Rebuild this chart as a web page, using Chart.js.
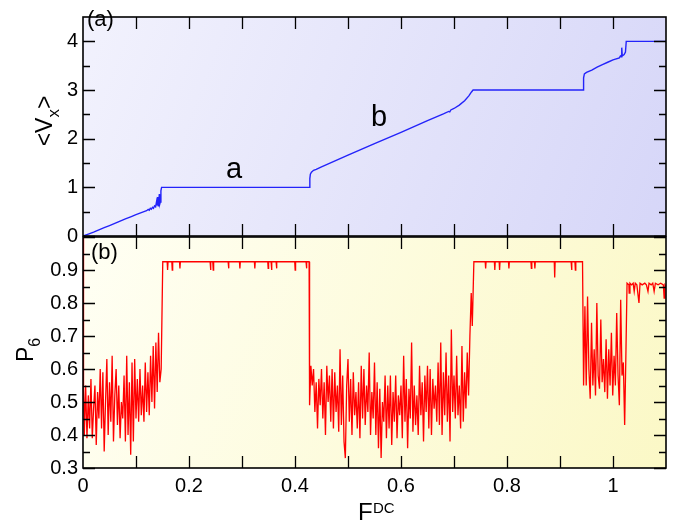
<!DOCTYPE html>
<html><head><meta charset="utf-8">
<script src="https://cdn.jsdelivr.net/npm/chart.js@4.4.1/dist/chart.umd.min.js"></script>
<style>
html,body{margin:0;padding:0;background:#fff;}
#wrap{position:relative;width:676px;height:528px;}
canvas{position:absolute;left:0;top:0;}
</style></head><body>
<div id="wrap">
<canvas id="cTop" width="676" height="528" style="width:676px;height:528px"></canvas>
<canvas id="cBot" width="676" height="528" style="width:676px;height:528px"></canvas>
</div>
<script>
// ---------------- DATA ----------------
// Panel (a): <V_x> versus F^DC (blue)
const vxF = [0,0.01,0.02,0.03,0.04,0.05,0.06,0.07,0.08,0.09,0.10,0.105,0.11,0.115,0.12,0.123,0.125,0.127,0.129,0.131,0.133,0.135,0.137,0.139,0.140,0.141,0.142,0.143,0.144,0.145,0.146,0.147,0.1483,
  0.4265,0.428,0.429,0.431,0.435,0.44,0.45,0.50,0.55,0.60,0.65,0.68,0.69,0.692,0.694,0.70,0.71,0.72,0.728,0.733,0.736,
  0.9435,0.9445,0.946,0.95,0.96,0.97,0.98,0.99,1.00,1.012,1.014,1.0155,1.0165,1.0175,1.021,1.0235,1.025,1.1];
const vxV = [0,0.04,0.08,0.125,0.17,0.215,0.26,0.305,0.35,0.395,0.44,0.46,0.48,0.50,0.52,0.545,0.53,0.57,0.55,0.59,0.57,0.62,0.60,0.72,0.64,0.80,0.62,0.70,0.86,0.66,0.70,0.93,1.0,
  1.0,1.18,1.27,1.31,1.35,1.37,1.42,1.66,1.90,2.13,2.37,2.51,2.56,2.55,2.59,2.62,2.69,2.78,2.88,2.96,3.0,
  3.0,3.25,3.33,3.36,3.41,3.47,3.52,3.57,3.62,3.66,3.70,3.68,3.87,3.70,3.73,3.78,4.0,4.0];

// Panel (b): P_6 versus F^DC (red)
const p6Start = [[0,1.0],[0.001,0.55]];
const gridStep = 0.0025;              // uniform F sampling of the noisy parts
const noise1Start = 0.0025;
const noise1 = [0.40,0.55,0.39,0.52,0.42,0.57,0.39,0.48,0.55,0.37,
  0.53,0.45,0.60,0.42,0.59,0.35,0.50,0.63,0.40,0.56,
  0.44,0.64,0.38,0.52,0.60,0.43,0.55,0.39,0.50,0.45,
  0.58,0.38,0.64,0.40,0.56,0.34,0.62,0.38,0.63,0.45,
  0.57,0.44,0.60,0.46,0.55,0.44,0.62,0.47,0.59,0.46,
  0.64,0.50,0.67,0.48,0.68,0.53,0.71,0.56,0.60];
const plateau1 = [0.1505, 0.4266, 0.925];
const dips1F = [0.1596,0.1684,0.1829,0.2406,0.2457,0.2746,0.296,0.3242,0.3494,0.3557,0.3651,0.4003,0.4216];
const dips1V = [0.90,0.90,0.905,0.90,0.90,0.905,0.905,0.905,0.905,0.90,0.905,0.90,0.905];
const noise2Start = 0.4275;
const noise2 = [0.49,0.61,0.55,0.60,0.47,0.56,0.42,0.57,0.49,0.60,
  0.45,0.56,0.40,0.61,0.50,0.58,0.44,0.60,0.42,0.59,
  0.47,0.55,0.41,0.66,0.43,0.58,0.38,0.33,0.55,0.63,
  0.44,0.57,0.40,0.59,0.46,0.53,0.42,0.56,0.39,0.61,
  0.45,0.60,0.43,0.55,0.47,0.65,0.40,0.53,0.45,0.62,
  0.40,0.56,0.36,0.54,0.33,0.50,0.44,0.58,0.39,0.55,
  0.42,0.58,0.37,0.53,0.44,0.58,0.39,0.52,0.46,0.55,
  0.39,0.64,0.44,0.57,0.36,0.54,0.45,0.68,0.41,0.55,
  0.43,0.52,0.40,0.61,0.46,0.56,0.38,0.58,0.47,0.61,
  0.42,0.60,0.40,0.57,0.48,0.55,0.44,0.62,0.43,0.68,
  0.40,0.59,0.46,0.65,0.44,0.58,0.38,0.72,0.47,0.58,
  0.45,0.64,0.46,0.55,0.42,0.67,0.44,0.59,0.48,0.65];
const rise2 = [[0.7275,0.52],[0.73,0.70],[0.7325,0.83],[0.7345,0.73],[0.7375,0.925]];
const plateau2 = [0.7375, 0.9425, 0.925];
const dips2F = [0.7597,0.777,0.786,0.8036,0.846,0.8526,0.890,0.9218,0.929];
const dips2V = [0.905,0.90,0.90,0.905,0.905,0.905,0.877,0.90,0.90];
const noise3Start = 0.9445;
const noise3 = [0.55,0.79,0.55,0.82,0.60,0.51,0.74,0.55,0.66,0.52,
  0.80,0.58,0.54,0.75,0.56,0.63,0.53,0.69,0.51,0.66,
  0.55,0.71,0.52,0.64,0.55,0.77,0.58,0.49,0.81,0.58,
  0.62,0.43,0.66];
const tail3 = [[1.0265,0.86],[1.03,0.855],[1.0305,0.83],[1.032,0.86],[1.035,0.855],[1.038,0.86],[1.040,0.835],[1.042,0.86],
  [1.045,0.855],[1.049,0.80],[1.051,0.86],[1.055,0.855],[1.06,0.86],[1.063,0.855],[1.066,0.835],[1.068,0.86],[1.072,0.855],
  [1.075,0.86],[1.0776,0.835],[1.08,0.86],[1.085,0.855],[1.09,0.86],[1.095,0.855],[1.0965,0.815],[1.098,0.855],[1.1,0.85]];

// Tick values / labels
const xTickValues = [0,0.2,0.4,0.6,0.8,1.0];
const xTickLabels = ['0','0.2','0.4','0.6','0.8','1'];
const xMinorTicks = [0.1,0.2,0.3,0.4,0.5,0.6,0.7,0.8,0.9,1.0];
const vxTickValues = [0,1,2,3,4];
const vxTickLabels = ['0','1','2','3','4'];
const vxMinorTicks = [0.5,1.5,2.5,3.5];
const p6TickValues = [0.3,0.4,0.5,0.6,0.7,0.8,0.9];
const p6TickLabels = ['0.3','0.4','0.5','0.6','0.7','0.8','0.9'];
const p6MinorTicks = [0.35,0.45,0.55,0.65,0.75,0.85,0.95];

// ---------------- BUILD SERIES ----------------
const vxData = vxF.map((f,i)=>({x:f,y:vxV[i]}));
function pushNoise(arr, start, vals){ vals.forEach((v,i)=>arr.push({x:+(start+i*gridStep).toFixed(5), y:v})); }
function pushPlateau(arr, pl, dF, dV){
  arr.push({x:pl[0],y:pl[2]});
  dF.forEach((f,i)=>{ arr.push({x:f-0.0008,y:pl[2]}); arr.push({x:f,y:dV[i]}); arr.push({x:f+0.0008,y:pl[2]}); });
  arr.push({x:pl[1],y:pl[2]});
}
const p6Data = [];
p6Start.forEach(p=>p6Data.push({x:p[0],y:p[1]}));
pushNoise(p6Data, noise1Start, noise1);
pushPlateau(p6Data, plateau1, dips1F, dips1V);
pushNoise(p6Data, noise2Start, noise2);
rise2.forEach(p=>p6Data.push({x:p[0],y:p[1]}));
pushPlateau(p6Data, plateau2, dips2F, dips2V);
pushNoise(p6Data, noise3Start, noise3);
tail3.forEach(p=>p6Data.push({x:p[0],y:p[1]}));

// ---------------- STYLE ----------------
const FONT = '"Liberation Sans", Arial, Helvetica, sans-serif';
Chart.defaults.font.family = FONT;
Chart.defaults.color = '#000';

function drawRot(ctx, parts, bx, cy){
  ctx.save();
  ctx.translate(bx, cy); ctx.rotate(-Math.PI/2);
  let total = 0;
  parts.forEach(p=>{ ctx.font = p.size+'px '+FONT; p.w = ctx.measureText(p.t).width; total += p.w; });
  let x = -total/2;
  ctx.fillStyle = '#000'; ctx.textBaseline = 'alphabetic'; ctx.textAlign = 'left';
  parts.forEach(p=>{ ctx.font = p.size+'px '+FONT; ctx.fillText(p.t, x, p.dy||0); x += p.w; });
  ctx.restore();
}
function drawText(ctx, t, x, y, size){
  ctx.save(); ctx.font = size+'px '+FONT; ctx.fillStyle='#000'; ctx.textBaseline='alphabetic'; ctx.textAlign='left';
  ctx.fillText(t, x, y); ctx.restore();
}

function panelPlugin(o){
  return {
    id: 'panel'+o.name,
    beforeDatasetsDraw(chart){
      const {ctx, chartArea:a} = chart;
      const g = ctx.createLinearGradient(a.left, a.top, a.right, a.bottom);
      g.addColorStop(0, o.bg0); g.addColorStop(1, o.bg1);
      ctx.save(); ctx.fillStyle = g; ctx.fillRect(a.left, a.top, a.right-a.left, a.bottom-a.top); ctx.restore();
    },
    afterDraw(chart){
      const {ctx, chartArea:a, scales} = chart;
      const xs = scales.x, ys = scales.y;
      ctx.save();
      ctx.strokeStyle = '#000'; ctx.lineWidth = 1.3;
      ctx.beginPath();
      xMinorTicks.forEach(v=>{
        const px = Math.round(xs.getPixelForValue(v))+0.5;
        ctx.moveTo(px, a.bottom); ctx.lineTo(px, a.bottom-12);
        ctx.moveTo(px, a.top); ctx.lineTo(px, a.top+12);
      });
      o.major.forEach(v=>{
        const py = Math.round(ys.getPixelForValue(v))+0.5;
        ctx.moveTo(a.left, py); ctx.lineTo(a.left+12, py);
        ctx.moveTo(a.right, py); ctx.lineTo(a.right-12, py);
      });
      o.minor.forEach(v=>{
        const py = Math.round(ys.getPixelForValue(v))+0.5;
        ctx.moveTo(a.left, py); ctx.lineTo(a.left+7, py);
        ctx.moveTo(a.right, py); ctx.lineTo(a.right-7, py);
      });
      ctx.stroke();
      ctx.lineWidth = 1.6;
      ctx.strokeRect(a.left, a.top, a.right-a.left, a.bottom-a.top);
      ctx.restore();
      o.texts(ctx);
    }
  };
}

function baseOptions(o){
  return {
    responsive:false, animation:false, devicePixelRatio:1,
    layout:{padding:o.padding},
    plugins:{legend:{display:false}, tooltip:{enabled:false}},
    scales:{
      x:{type:'linear', min:0, max:1.1,
        afterFit:s=>{ s.height = o.xHeight; },
        afterBuildTicks:s=>{ s.ticks = xTickValues.map(v=>({value:v})); },
        ticks:{display:o.showX, callback:(v,i)=>xTickLabels[i], font:{size:20}, color:'#000', padding:6, maxRotation:0, autoSkip:false},
        grid:{display:false, drawTicks:false}, border:{display:false}},
      y:{type:'linear', min:o.ymin, max:o.ymax,
        afterFit:s=>{ s.width = 83; },
        afterBuildTicks:s=>{ s.ticks = o.yTicks.map(v=>({value:v})); },
        ticks:{callback:(v,i)=>o.yLabels[i], font:{size:20}, color:'#000', padding:5, autoSkip:false},
        grid:{display:false, drawTicks:false}, border:{display:false}}
    }
  };
}

const topOpts = baseOptions({padding:{top:5,right:10,bottom:292,left:0}, xHeight:0, showX:false,
  ymin:0, ymax:4.5, yTicks:vxTickValues, yLabels:vxTickLabels});
new Chart(document.getElementById('cTop'), {
  type:'line',
  data:{datasets:[{data:vxData, borderColor:'rgb(35,35,250)', borderWidth:1.4, pointRadius:0, tension:0, fill:false}]},
  options:topOpts,
  plugins:[panelPlugin({name:'A', bg0:'#f2f2fd', bg1:'#d6d6f8', major:vxTickValues, minor:vxMinorTicks,
    texts:(ctx)=>{
      drawText(ctx,'(a)',87,26,22);
      drawText(ctx,'a',226,178,29);
      drawText(ctx,'b',371,126,29);
      drawRot(ctx,[{t:'<V',size:23},{t:'x',size:17,dy:7},{t:'>',size:23}],52,121);
    }})]
});

const botOpts = baseOptions({padding:{top:237,right:10,bottom:0,left:0}, xHeight:60, showX:true,
  ymin:0.3, ymax:1.0, yTicks:p6TickValues, yLabels:p6TickLabels});
new Chart(document.getElementById('cBot'), {
  type:'line',
  data:{datasets:[{data:p6Data, borderColor:'rgb(255,0,0)', borderWidth:1.3, pointRadius:0, tension:0, fill:false}]},
  options:botOpts,
  plugins:[panelPlugin({name:'B', bg0:'#fffff4', bg1:'#fbf8c6', major:p6TickValues.concat([1.0]), minor:p6MinorTicks,
    texts:(ctx)=>{
      drawText(ctx,'(b)',91,259,22);
      drawRot(ctx,[{t:'P',size:23},{t:'6',size:16,dy:7}],33,350);
      drawText(ctx,'F',358,520,24);
      drawText(ctx,'DC',373,513,15);
    }})]
});
</script>
</body></html>
